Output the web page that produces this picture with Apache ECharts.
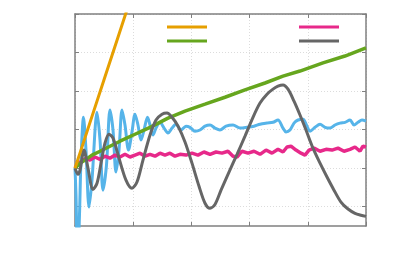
<!DOCTYPE html>
<html>
<head>
<meta charset="utf-8">
<script src="https://cdn.jsdelivr.net/npm/echarts@6/dist/echarts.min.js"></script>
<style>html,body{margin:0;padding:0;background:#fff;}#c{width:393px;height:275px;}</style>
</head>
<body>
<div id="c"></div>
<script>
// x ticks and y ticks
const xTicks = [0, 1, 2, 3, 4, 5];
const yTicks = [-1, 0, 1, 2, 3, 4];

const orangeX = [0, 0.25, 0.5, 0.75, 1.0];
const orangeY = [0, 1.15, 2.3, 3.45, 4.6];

const greenX = [0, 0.086, 0.172, 0.292, 0.43, 0.601, 0.773, 1.031, 1.289, 1.598, 1.89, 2.234, 2.577, 2.921, 3.265, 3.574, 3.866, 4.261, 4.639, 5.0];
const greenY = [0, 0.13, 0.21, 0.34, 0.44, 0.57, 0.70, 0.88, 1.06, 1.30, 1.48, 1.66, 1.84, 2.03, 2.21, 2.39, 2.52, 2.73, 2.91, 3.12];

const blueX = [0, 0.017, 0.034, 0.052, 0.077, 0.103, 0.146, 0.189, 0.241, 0.292, 0.378, 0.43, 0.481, 0.541, 0.601, 0.653, 0.704, 0.756, 0.808, 0.859, 0.919, 0.979, 1.031, 1.082, 1.134, 1.186, 1.246, 1.289, 1.34, 1.392, 1.46, 1.53, 1.598, 1.667, 1.735, 1.821, 1.907, 1.976, 2.062, 2.148, 2.234, 2.32, 2.405, 2.491, 2.595, 2.715, 2.835, 2.955, 3.076, 3.179, 3.299, 3.402, 3.488, 3.574, 3.625, 3.694, 3.763, 3.832, 3.918, 3.986, 4.038, 4.124, 4.21, 4.296, 4.381, 4.467, 4.553, 4.639, 4.725, 4.794, 4.863, 4.931, 5.0];
const blueY = [0, -0.70, -1.87, -2.13, -1.22, 0.21, 1.32, 0.47, -1.01, -0.31, 1.45, 0.73, -0.57, 0.08, 1.51, 0.99, -0.10, 0.47, 1.51, 1.12, 0.47, 0.94, 1.40, 1.12, 0.73, 0.99, 1.32, 1.12, 0.86, 1.04, 1.19, 1.04, 0.91, 1.04, 1.14, 0.99, 1.09, 1.06, 0.96, 0.99, 1.09, 1.12, 1.04, 0.99, 1.09, 1.12, 1.04, 1.06, 1.09, 1.14, 1.17, 1.19, 1.25, 1.04, 0.94, 0.99, 1.17, 1.25, 1.27, 1.09, 0.96, 1.06, 1.14, 1.06, 1.04, 1.12, 1.17, 1.19, 1.25, 1.12, 1.19, 1.25, 1.22];

const pinkX = [0, 0.052, 0.120, 0.189, 0.258, 0.344, 0.43, 0.515, 0.601, 0.687, 0.773, 0.859, 0.945, 1.031, 1.117, 1.203, 1.289, 1.375, 1.46, 1.546, 1.632, 1.718, 1.804, 1.907, 2.01, 2.113, 2.216, 2.32, 2.423, 2.526, 2.629, 2.715, 2.784, 2.869, 2.973, 3.076, 3.179, 3.282, 3.385, 3.488, 3.574, 3.643, 3.711, 3.797, 3.883, 3.952, 4.021, 4.107, 4.21, 4.313, 4.416, 4.519, 4.622, 4.725, 4.811, 4.897, 4.948, 5.0];
const pinkY = [0, 0.13, 0.18, 0.26, 0.21, 0.29, 0.23, 0.31, 0.26, 0.34, 0.29, 0.36, 0.29, 0.34, 0.39, 0.31, 0.36, 0.31, 0.39, 0.34, 0.39, 0.31, 0.36, 0.34, 0.39, 0.34, 0.42, 0.36, 0.42, 0.39, 0.44, 0.31, 0.29, 0.44, 0.39, 0.44, 0.36, 0.47, 0.39, 0.49, 0.42, 0.55, 0.57, 0.47, 0.39, 0.34, 0.47, 0.52, 0.44, 0.49, 0.47, 0.52, 0.44, 0.49, 0.55, 0.44, 0.57, 0.55];

const grayX = [0, 0.052, 0.086, 0.155, 0.223, 0.309, 0.378, 0.447, 0.515, 0.584, 0.653, 0.756, 0.876, 0.979, 1.065, 1.168, 1.289, 1.392, 1.495, 1.581, 1.667, 1.77, 1.89, 2.01, 2.131, 2.234, 2.32, 2.405, 2.509, 2.646, 2.784, 2.921, 3.058, 3.179, 3.299, 3.402, 3.488, 3.574, 3.66, 3.763, 3.866, 3.969, 4.089, 4.21, 4.33, 4.45, 4.57, 4.691, 4.811, 4.914, 5.0];
const grayY = [0, -0.16, -0.05, 0.47, 0, -0.55, -0.39, 0.13, 0.65, 0.88, 0.78, 0.26, -0.31, -0.52, -0.36, 0.21, 0.86, 1.25, 1.40, 1.43, 1.32, 1.09, 0.68, 0.13, -0.47, -0.91, -1.04, -0.94, -0.57, -0.10, 0.36, 0.83, 1.32, 1.69, 1.92, 2.05, 2.13, 2.16, 2.05, 1.74, 1.38, 0.99, 0.52, 0.13, -0.23, -0.57, -0.88, -1.06, -1.17, -1.22, -1.25];

const zip = (xs, ys) => xs.map((x, i) => [x, ys[i]]);

const axisColor = '#808080';
const gridColor = '#dcdcdc';

function xAx(pos, split) {
  return {
    type: 'value', position: pos, min: 0, max: 5, interval: 1,
    axisLine: { show: true, onZero: false, lineStyle: { color: axisColor, width: 1.5 } },
    axisTick: { show: true, inside: true, length: 4, lineStyle: { color: axisColor, width: 1 } },
    axisLabel: { show: false },
    splitLine: { show: split, lineStyle: { color: gridColor, type: [1, 2], width: 1 } }
  };
}
function yAx(pos, split) {
  return {
    type: 'value', position: pos, min: -1.5, max: 4,
    axisLine: { show: true, onZero: false, lineStyle: { color: axisColor, width: 1.5 } },
    axisTick: { show: true, inside: true, length: 4, customValues: yTicks, lineStyle: { color: axisColor, width: 1 } },
    axisLabel: { show: false, customValues: yTicks },
    splitLine: { show: split, lineStyle: { color: gridColor, type: [1, 2], width: 1 } }
  };
}

function line(name, color, xs, ys, w, smooth) {
  return {
    name: name, type: 'line', data: zip(xs, ys), showSymbol: false, symbol: 'none',
    smooth: smooth, lineStyle: { color: color, width: w }, itemStyle: { color: color },
    clip: true, animation: false
  };
}

const chart = echarts.init(document.getElementById('c'), null, { renderer: 'canvas' });
const legendCommon = {
  orient: 'vertical', itemWidth: 40, itemHeight: 3, itemGap: 11, icon: 'rect',
  formatter: () => '', textStyle: { fontSize: 1, lineHeight: 3 }, selectedMode: false, padding: 0
};
chart.setOption({
  animation: false,
  grid: { left: 75, right: 27, top: 14, bottom: 49, containLabel: false },
  xAxis: [xAx('bottom', true), xAx('top', false)],
  yAxis: [yAx('left', true), yAx('right', false)],
  legend: [
    Object.assign({ data: ['s1', 's2'], left: 167, top: 25.5 }, legendCommon),
    Object.assign({ data: ['s3', 's4'], left: 299, top: 25.5 }, legendCommon)
  ],
  series: [
    line('s0', '#56B4E9', blueX, blueY, 3, 0.3),
    line('s3', '#E7298A', pinkX, pinkY, 3.5, false),
    line('s2', '#66A61E', greenX, greenY, 3.5, false),
    line('s4', '#666666', grayX, grayY, 3, 0.3),
    line('s1', '#E69F00', orangeX, orangeY, 3, false)
  ]
});
</script>
</body>
</html>
